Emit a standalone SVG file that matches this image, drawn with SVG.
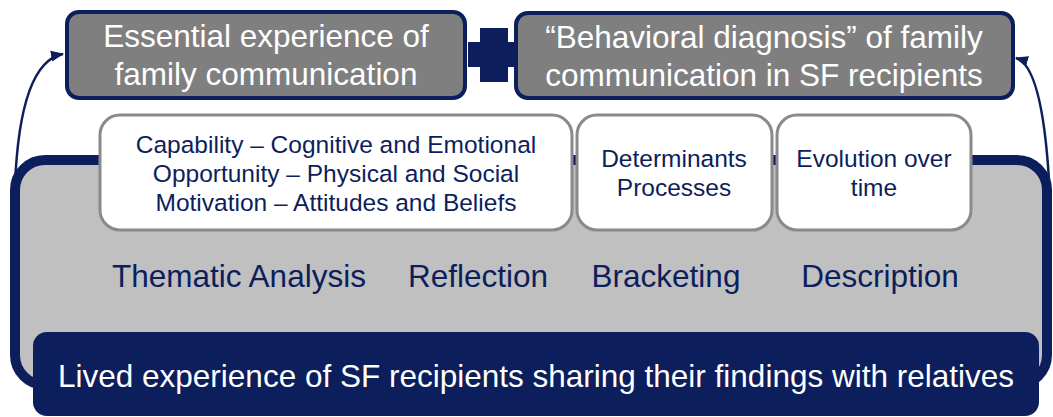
<svg xmlns="http://www.w3.org/2000/svg" width="1053" height="417" viewBox="0 0 1053 417">
  <style>
    text { font-family: "Liberation Sans", Arial, sans-serif; text-anchor: middle; }
    .frame { fill: #c0c0c0; stroke: #0c1e5b; stroke-width: 10; }
    .card { fill: #ffffff; stroke: #8a8a8a; stroke-width: 3; }
    .card-text { fill: #0c1e5b; font-size: 24.5px; }
    .step { fill: #0c1e5b; font-size: 31.5px; }
    .outcome { fill: #7f7f7f; stroke: #0c1e5b; stroke-width: 4; }
    .outcome-text { fill: #ffffff; font-size: 31.5px; }
    .base { fill: #0c1e5b; }
    .base-text { fill: #ffffff; font-size: 31.5px; }
    .link { fill: none; stroke: #0c1e5b; stroke-width: 2.5; }
  </style>
  <defs>
    <marker id="arrowhead" markerUnits="userSpaceOnUse" markerWidth="13" markerHeight="13" viewBox="0 0 13 13" refX="12" refY="6.5" orient="auto">
      <path d="M0,1 L13,6.5 L0,12 Z" fill="#0c1e5b"/>
    </marker>
  </defs>

  <!-- outer frame of the analysis -->
  <g id="frame">
    <rect class="frame" x="15" y="160" width="1032" height="225" rx="30" ry="30"/>
  </g>

  <!-- COM-B components -->
  <g id="card-comb">
    <rect class="card" x="100" y="115" width="472" height="115" rx="20" ry="20"/>
    <text class="card-text" x="336" y="153">Capability – Cognitive and Emotional</text>
    <text class="card-text" x="336" y="182">Opportunity – Physical and Social</text>
    <text class="card-text" x="336" y="211">Motivation – Attitudes and Beliefs</text>
  </g>
  <g id="card-determinants">
    <rect class="card" x="577" y="115" width="195" height="115" rx="20" ry="20"/>
    <text class="card-text" x="674" y="167">Determinants</text>
    <text class="card-text" x="674" y="196">Processes</text>
  </g>
  <g id="card-evolution">
    <rect class="card" x="777" y="115" width="194" height="115" rx="20" ry="20"/>
    <text class="card-text" x="874" y="167">Evolution over</text>
    <text class="card-text" x="874" y="196">time</text>
  </g>

  <!-- method steps -->
  <g id="steps">
    <text class="step" x="239" y="287">Thematic Analysis</text>
    <text class="step" x="478" y="287">Reflection</text>
    <text class="step" x="666" y="287">Bracketing</text>
    <text class="step" x="880" y="287">Description</text>
  </g>

  <!-- base: lived experience -->
  <g id="lived-experience">
    <rect class="base" x="33" y="332" width="1006" height="84" rx="14" ry="14"/>
    <text class="base-text" x="536" y="387">Lived experience of SF recipients sharing their findings with relatives</text>
  </g>

  <!-- plus sign joining the two outcomes -->
  <g id="plus">
    <rect class="base" x="468" y="42" width="52" height="25"/>
    <rect class="base" x="480" y="28" width="28" height="54"/>
  </g>

  <!-- outcomes -->
  <g id="outcome-essential">
    <rect class="outcome" x="67" y="12" width="398" height="86" rx="12" ry="12"/>
    <text class="outcome-text" x="266" y="47">Essential experience of</text>
    <text class="outcome-text" x="266" y="85">family communication</text>
  </g>
  <g id="outcome-diagnosis">
    <rect class="outcome" x="516" y="13" width="497" height="85" rx="12" ry="12"/>
    <text class="outcome-text" x="764" y="48">“Behavioral diagnosis” of family</text>
    <text class="outcome-text" x="764" y="86">communication in SF recipients</text>
  </g>

  <!-- connectors -->
  <g id="connectors">
    <path class="link" d="M15,185 Q20,62 63,54" marker-end="url(#arrowhead)"/>
    <path class="link" d="M1049,180 Q1042,66 1016,58" marker-end="url(#arrowhead)"/>
  </g>
</svg>
